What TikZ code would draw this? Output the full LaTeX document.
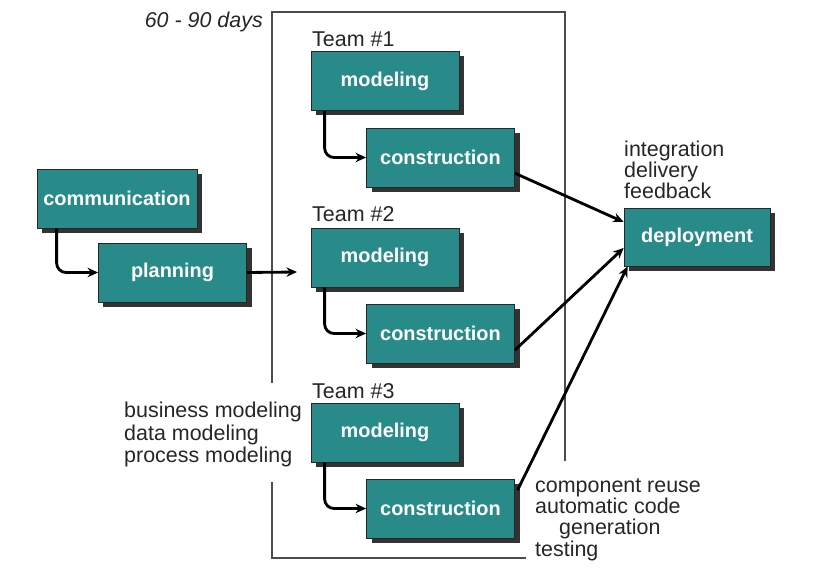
\documentclass[tikz,border=0pt]{standalone}
\usepackage{fontspec}
\setmainfont{Liberation Sans}
\usetikzlibrary{arrows.meta,shadows}
\definecolor{boxteal}{RGB}{40,139,137}
\begin{document}
\begin{tikzpicture}[x=0.03cm,y=-0.03cm,
    phase/.style={draw=black!85,line width=0.6pt,fill=boxteal,text=white,
      font=\fontsize{17}{18}\selectfont\bfseries,minimum width=4.44cm,minimum height=1.77cm,
      drop shadow={shadow xshift=0.15cm,shadow yshift=-0.15cm,fill=black!80,opacity=1}},
    note/.style={font=\fontsize{18.3}{18}\selectfont,text=black!85,inner sep=0pt,align=left},
    flow/.style={line width=2.4pt,-{Stealth[length=9pt,width=8pt]}},
    elbow/.style={flow,rounded corners=8pt}]
  \useasboundingbox (0,0) rectangle (838,569);
  % time box
  \draw[black!70,line width=1.5pt] (272,383) -- (272,12) -- (565,12) -- (565,461);
  \draw[black!70,line width=1.5pt] (272,482) -- (272,558) -- (526,558);
  \node[note,anchor=east,font=\fontsize{18.3}{18}\selectfont\itshape] (days) at (263,22) {60 - 90 days};
  \node[phase,minimum width=4.8cm] (comm) at (117,198.5) {communication};
  \node[phase] (plan) at (172.5,272.5) {planning};
  \node[phase] (mod1) at (385,81) {modeling};
  \node[phase] (con1) at (440.5,157.5) {construction};
  \node[phase] (mod2) at (385,257.5) {modeling};
  \node[phase] (con2) at (440.5,333.5) {construction};
  \node[phase] (mod3) at (385,432.5) {modeling};
  \node[phase] (con3) at (440.5,508.5) {construction};
  \node[phase,minimum width=4.38cm,minimum height=1.74cm] (dep) at (697,237) {deployment};
  \node[note,anchor=base west] (team1) at (312,47) {Team \#1};
  \node[note,anchor=base west] (team2) at (312,222) {Team \#2};
  \node[note,anchor=base west] (team3) at (312,398) {Team \#3};
  \node[note,anchor=north west,font=\fontsize{18.3}{17.9}\selectfont] (deptasks) at (624,141)
    {integration\\delivery\\feedback};
  \node[note,anchor=north west,font=\fontsize{18.3}{19}\selectfont] (modtasks) at (124,402)
    {business modeling\\data modeling\\process modeling};
  \node[note,anchor=north west,font=\fontsize{18.3}{18.3}\selectfont] (contasks) at (535,478)
    {component reuse\\automatic code\\\hspace{0.72cm}generation\\testing};
  \coordinate (inlet) at (297,272);
  \draw[elbow] ([xshift=0.6cm]comm.south west) |- (plan.west);
  \draw[flow] (plan.east) -- (inlet);
  \foreach \t in {1,2,3}
    \draw[elbow] ([xshift=0.42cm]mod\t.south west) |- (con\t.west);
  \draw[flow] ([yshift=-0.47cm]con1.east) -- ([yshift=0.45cm]dep.west);
  \draw[flow] ([yshift=-0.5cm]con2.east) -- ([yshift=-0.33cm]dep.west);
  \draw[flow] ([yshift=0.55cm,xshift=0.08cm]con3.east) -- ([xshift=0.12cm]dep.south west);
\end{tikzpicture}
\end{document}
